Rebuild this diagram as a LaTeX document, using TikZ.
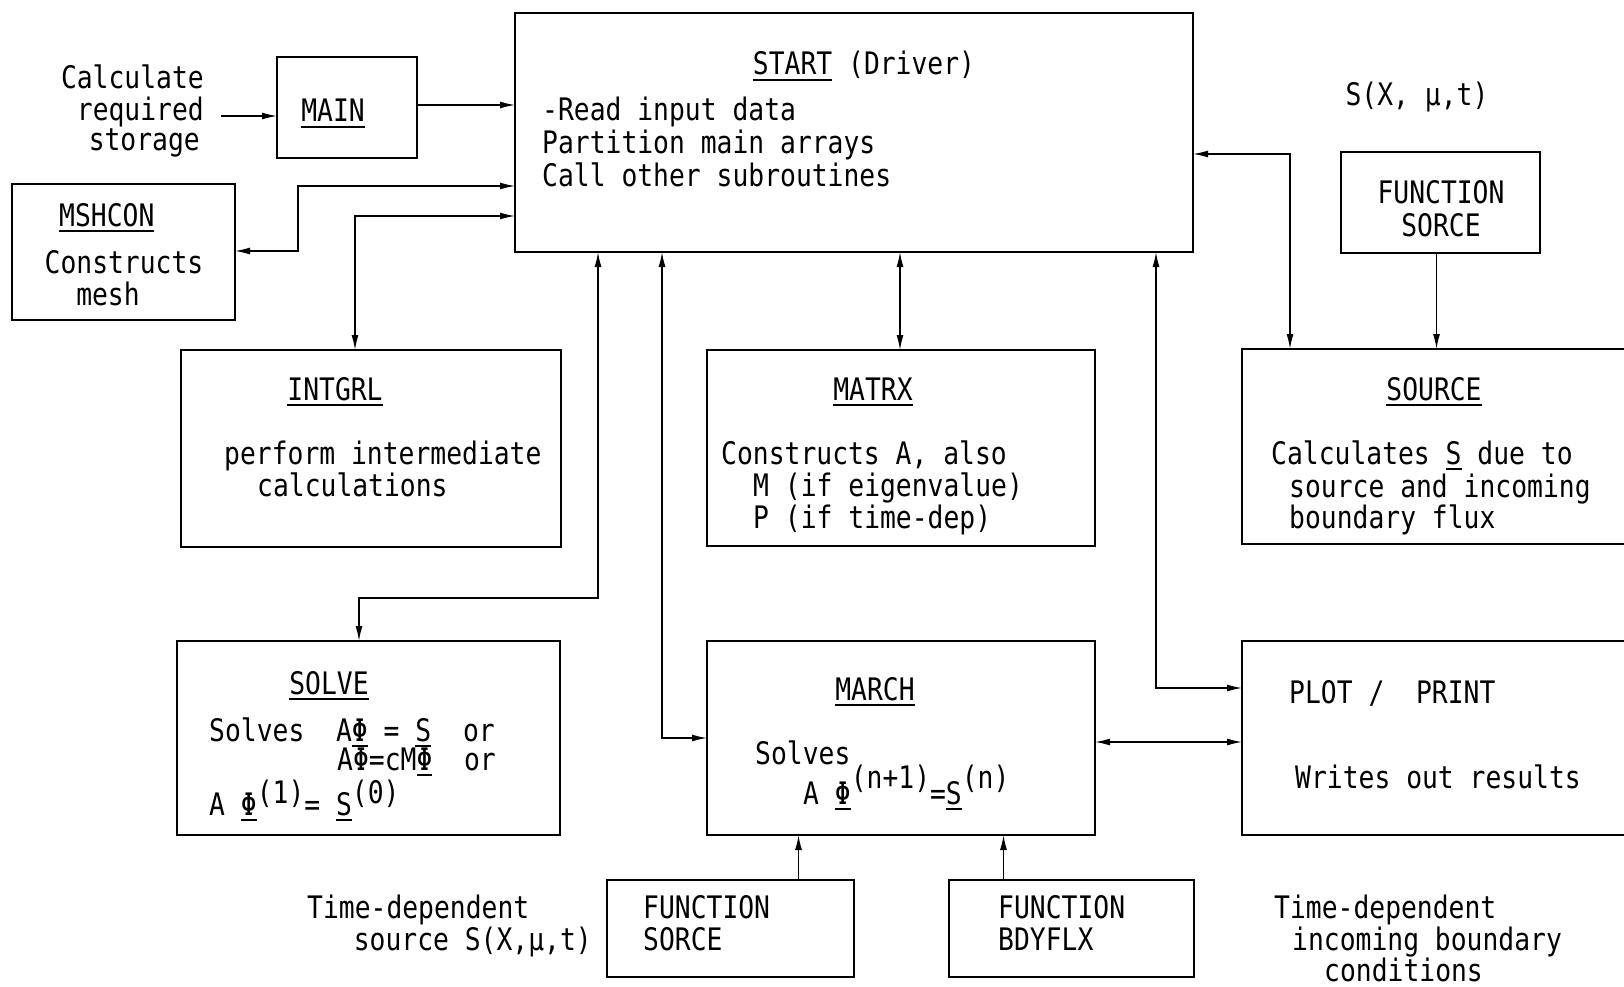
\documentclass[tikz,border=0pt]{standalone}
\usepackage{fontspec}
\setmainfont[FakeStretch=0.85]{DejaVu Sans Mono}
\usetikzlibrary{arrows.meta}
\newsavebox\ulbox
\newcommand\uln[1]{\sbox\ulbox{#1}\rlap{\rule[-6pt]{\wd\ulbox}{2.2pt}}\usebox\ulbox}
\newcommand\rup[1]{\raisebox{16pt}{#1}}
\newcommand\rlo[1]{\raisebox{12pt}{#1}}
\begin{document}
\begin{tikzpicture}[x=1pt,y=-1pt,
  box/.style={draw,line width=2.4pt,inner sep=0pt,outer sep=0pt},
  txt/.style={inner sep=0pt,font=\fontsize{31}{32}\selectfont},
  con/.style={line width=1.4pt},
  arr/.style={con,-{Latex[length=15pt,width=7pt]}},
  both/.style={con,{Latex[length=15pt,width=7pt]}-{Latex[length=15pt,width=7pt]}}]
\useasboundingbox (0,0) rectangle (1624,987);
% boxes
\node[box,minimum width=678pt,minimum height=239pt] (start) at (854,132.5) {};
\node[box,minimum width=140pt,minimum height=101pt] (main) at (347,107.5) {};
\node[box,minimum width=223pt,minimum height=136pt] (mshcon) at (123.5,252) {};
\node[box,minimum width=380pt,minimum height=197pt] (intgrl) at (371,448.5) {};
\node[box,minimum width=388pt,minimum height=196pt] (matrx) at (901,448) {};
\node[box,minimum width=398pt,minimum height=195pt] (source) at (1441,446.5) {};
\node[box,minimum width=199pt,minimum height=101pt] (fstop) at (1440.5,202.5) {};
\node[box,minimum width=383pt,minimum height=194pt] (solve) at (368.5,738) {};
\node[box,minimum width=388pt,minimum height=194pt] (march) at (901,738) {};
\node[box,minimum width=398pt,minimum height=194pt] (plot) at (1441,738) {};
\node[box,minimum width=247pt,minimum height=97pt] (fsbot) at (730.5,928.5) {};
\node[box,minimum width=245pt,minimum height=97pt] (bdy) at (1071.5,928.5) {};
% texts
\node[txt,anchor=base east] (c1) at (204,89) {Calculate};
\node[txt,anchor=base east] (c2) at (204,121) {required};
\node[txt,anchor=base east] (c3) at (200,151) {storage};
\node[txt,anchor=base] (mainT) at (333,122) {\uln{MAIN}};
\node[txt,anchor=base] (startT) at (864,75) {\uln{START} (Driver)};
\node[txt,anchor=base west] (s1) at (542,121) {-Read input data};
\node[txt,anchor=base west] (s2) at (542,154) {Partition main arrays};
\node[txt,anchor=base west] (s3) at (542,186) {Call other subroutines};
\node[txt,anchor=base west] (mshT) at (59,226) {\uln{MSHCON}};
\node[txt,anchor=base] (m1) at (124,273) {Constructs};
\node[txt,anchor=base] (m2) at (108,305) {mesh};
\node[txt,anchor=base] (intT) at (335,400) {\uln{INTGRL}};
\node[txt,anchor=base west] (i1) at (224,464) {perform intermediate};
\node[txt,anchor=base west] (i2) at (257,496) {calculations};
\node[txt,anchor=base] (matT) at (873,400) {\uln{MATRX}};
\node[txt,anchor=base west] (x1) at (721,464) {Constructs A, also};
\node[txt,anchor=base west] (x2) at (753,496) {M (if eigenvalue)};
\node[txt,anchor=base west] (x3) at (753,528) {P (if time-dep)};
\node[txt,anchor=base] (srcT) at (1434,400) {\uln{SOURCE}};
\node[txt,anchor=base west] (r1) at (1271,464) {Calculates \uln{S} due to};
\node[txt,anchor=base west] (r2) at (1289,497) {source and incoming};
\node[txt,anchor=base west] (r3) at (1289,528) {boundary flux};
\node[txt,anchor=base] (sx) at (1417,106) {S(X, μ,t)};
\node[txt,anchor=base] (f1) at (1441,204) {FUNCTION};
\node[txt,anchor=base] (f2) at (1441,236) {SORCE};
\node[txt,anchor=base] (solT) at (329,694) {\uln{SOLVE}};
\node[txt,anchor=base west] (v1) at (209,741) {Solves~~A\uln{Φ}~=~\uln{S}~~or};
\node[txt,anchor=base west] (v2) at (337,770) {AΦ=cM\uln{Φ}~~or};
\node[txt,anchor=base west] (v3) at (209,815) {A~\uln{Φ}\rlo{(1)}=~\uln{S}\rlo{(0)}};
\node[txt,anchor=base] (marT) at (875,700) {\uln{MARCH}};
\node[txt,anchor=base west] (a1) at (755,764) {Solves};
\node[txt,anchor=base west] (a2) at (803,804) {A~\uln{Φ}\rup{(n+1)}=\uln{S}\rup{(n)}};
\node[txt,anchor=base west] (p1) at (1289,703) {PLOT /~~PRINT};
\node[txt,anchor=base west] (p2) at (1295,788) {Writes out results};
\node[txt,anchor=base west] (b1) at (643,918) {FUNCTION};
\node[txt,anchor=base west] (b2) at (643,950) {SORCE};
\node[txt,anchor=base west] (d1) at (998,918) {FUNCTION};
\node[txt,anchor=base west] (d2) at (998,950) {BDYFLX};
\node[txt,anchor=base west] (l1) at (307,918) {Time-dependent};
\node[txt,anchor=base east] (l2) at (592,950) {source S(X,μ,t)};
\node[txt,anchor=base west] (q1) at (1274,918) {Time-dependent};
\node[txt,anchor=base west] (q2) at (1292,950) {incoming boundary};
\node[txt,anchor=base west] (q3) at (1324,981) {conditions};
% bend points
\coordinate (k0) at (221,116);
\coordinate (kmain) at (0,105);
\coordinate (k1) at (298,186);
\coordinate (k2) at (298,251);
\coordinate (k3) at (355,216);
\coordinate (k4) at (900,0);
\coordinate (k5) at (1290,154);
\coordinate (k6) at (598,598);
\coordinate (k7) at (359,598);
\coordinate (k8) at (662,738);
\coordinate (k9) at (1156,688);
\coordinate (k10) at (0,742);
\coordinate (k11) at (798.5,0);
\coordinate (k12) at (1003.5,0);
\coordinate (k13) at (1436.5,0);
% connectors
\draw[arr] (k0) -- (main.west |- k0);
\draw[arr] (main.east |- kmain) -- (start.west |- kmain);
\draw[both] (mshcon.east |- k2) -- (k2) -- (k1) -- (start.west |- k1);
\draw[both] (start.west |- k3) -| (intgrl.north -| k3);
\draw[both] (start.south -| k4) -- (matrx.north -| k4);
\draw[both] (start.east |- k5) -| (source.north -| k5);
\draw[arr] (fstop.south -| k13) -- (source.north -| k13);
\draw[both] (start.south -| k6) -- (k6) -- (k7) -- (solve.north -| k7);
\draw[both] (start.south -| k8) |- (march.west |- k8);
\draw[both] (start.south -| k9) |- (plot.west |- k9);
\draw[both] (march.east |- k10) -- (plot.west |- k10);
\draw[arr] (fsbot.north -| k11) -- (march.south -| k11);
\draw[arr] (bdy.north -| k12) -- (march.south -| k12);
\end{tikzpicture}
\end{document}
